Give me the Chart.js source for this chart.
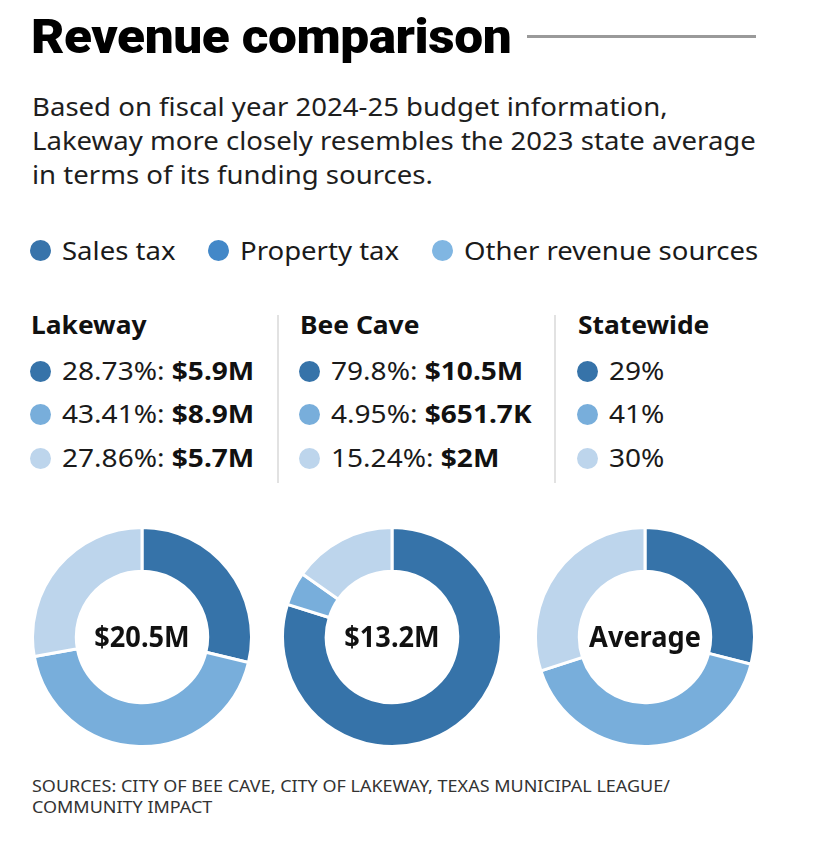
<!DOCTYPE html>
<html>
<head>
<meta charset="utf-8">
<style>
    body { margin: 0; background: #fff; font-family: "Noto Sans", sans-serif; color: #1a1a1a; }
    #page { position: relative; width: 820px; height: 851px; overflow: hidden; }
    .abs { position: absolute; white-space: nowrap; transform-origin: left top; }
    #title { left: 31px; top: 8px; font-family: Roboto, sans-serif; font-weight: 900; font-size: 48px; letter-spacing: -0.4px; color: #000; transform: scaleX(1.07); }
    #rule { left: 527px; top: 35px; width: 229px; height: 3px; background: #9a9a9a; }
    #subtitle { left: 32px; top: 89px; font-size: 26px; line-height: 34px; color: #1e1e1e; transform: scaleX(1.06); }
    .dot { position: absolute; width: 21px; height: 21px; border-radius: 50%; }
    .leg { font-size: 25.5px; top: 233px; transform: scaleX(1.08); }
    .head { font-weight: 700; font-size: 25px; top: 307px; color: #111; transform: scaleX(1.055); }
    .row { font-size: 25.5px; color: #1a1a1a; transform: scaleX(1.1); }
    .row b { font-weight: 700; color: #111; }
    .sep { width: 2px; background: #e2e2e2; top: 315px; height: 168px; }
    .donut { position: absolute; }
    .center { font-weight: 700; font-size: 28px; color: #111; text-align: center; width: 160px; transform-origin: center center; transform: scaleX(0.97); }
    #sources { left: 32px; top: 775px; font-size: 16.5px; line-height: 21px; color: #333; transform: scaleX(1.09); }
</style>
</head>
<body>
<div id="page">
    <div id="title" class="abs">Revenue comparison</div>
    <div id="rule" class="abs"></div>
    <div id="subtitle" class="abs">Based on fiscal year 2024-25 budget information,<br>Lakeway more closely resembles the 2023 state average<br>in terms of its funding sources.</div>
    <div id="sources" class="abs">SOURCES: CITY OF BEE CAVE, CITY OF LAKEWAY, TEXAS MUNICIPAL LEAGUE/<br>COMMUNITY IMPACT</div>
</div>

<script src="https://cdn.jsdelivr.net/npm/chart.js"></script>
<script>
    // data
    const categories = ['Sales tax', 'Property tax', 'Other revenue sources'];
    const places = ['Lakeway', 'Bee Cave', 'Statewide'];
    const lakewayShares = [28.73, 43.41, 27.86];
    const lakewayAmounts = ['$5.9M', '$8.9M', '$5.7M'];
    const beeCaveShares = [79.8, 4.95, 15.24];
    const beeCaveAmounts = ['$10.5M', '$651.7K', '$2M'];
    const statewideShares = [29, 41, 30];
    const statewideAmounts = [null, null, null];
    const centerLabels = ['$20.5M', '$13.2M', 'Average'];

    const sliceColors = ['#3673a9', '#78aedb', '#bdd5ec'];
    const legendColors = ['#3874ab', '#4388c8', '#80b6e2'];

    const page = document.querySelector('#page');

    function el(cls, css, html) {
        const d = document.createElement('div');
        d.className = cls;
        Object.assign(d.style, css);
        if (html !== undefined) d.innerHTML = html;
        page.appendChild(d);
        return d;
    }

    // shared legend
    const legendDotX = [30, 208, 432];
    categories.forEach((c, i) => {
        el('dot', { left: legendDotX[i] + 'px', top: '240px', background: legendColors[i] });
        el('abs leg', { left: (legendDotX[i] + 32) + 'px' }, c);
    });

    // columns with numbers
    const shares = [lakewayShares, beeCaveShares, statewideShares];
    const amounts = [lakewayAmounts, beeCaveAmounts, statewideAmounts];
    const colX = [30, 299, 577];
    const rowY = [372, 415, 459];

    places.forEach((p, c) => {
        el('abs head', { left: (colX[c] + 1) + 'px' }, p);
        shares[c].forEach((v, r) => {
            el('dot', { left: colX[c] + 'px', top: (rowY[r] - 11) + 'px', background: sliceColors[r] });
            const txt = amounts[c][r] ? v + '%: <b>' + amounts[c][r] + '</b>' : v + '%';
            el('abs row', { left: (colX[c] + 32) + 'px', top: (rowY[r] - 19) + 'px' }, txt);
        });
    });
    el('abs sep', { left: '277px' });
    el('abs sep', { left: '554px' });

    // donuts
    const donutCx = [142, 392, 645];
    const donutCy = 637;
    const size = 222;

    shares.forEach((data, i) => {
        const cv = document.createElement('canvas');
        cv.className = 'donut';
        cv.width = size; cv.height = size;
        cv.style.left = (donutCx[i] - size / 2) + 'px';
        cv.style.top = (donutCy - size / 2) + 'px';
        cv.style.width = size + 'px'; cv.style.height = size + 'px';
        page.appendChild(cv);

        new Chart(cv, {
            type: 'doughnut',
            data: {
                labels: categories,
                datasets: [{
                    data: data,
                    backgroundColor: sliceColors,
                    borderColor: '#ffffff',
                    borderWidth: 3
                }]
            },
            options: {
                responsive: false,
                animation: false,
                cutout: '60%',
                layout: { padding: 0 },
                plugins: { legend: { display: false }, tooltip: { enabled: false } }
            }
        });

        el('abs center', { left: (donutCx[i] - 80) + 'px', top: (donutCy - 20) + 'px' }, centerLabels[i]);
    });
</script>
</body>
</html>
